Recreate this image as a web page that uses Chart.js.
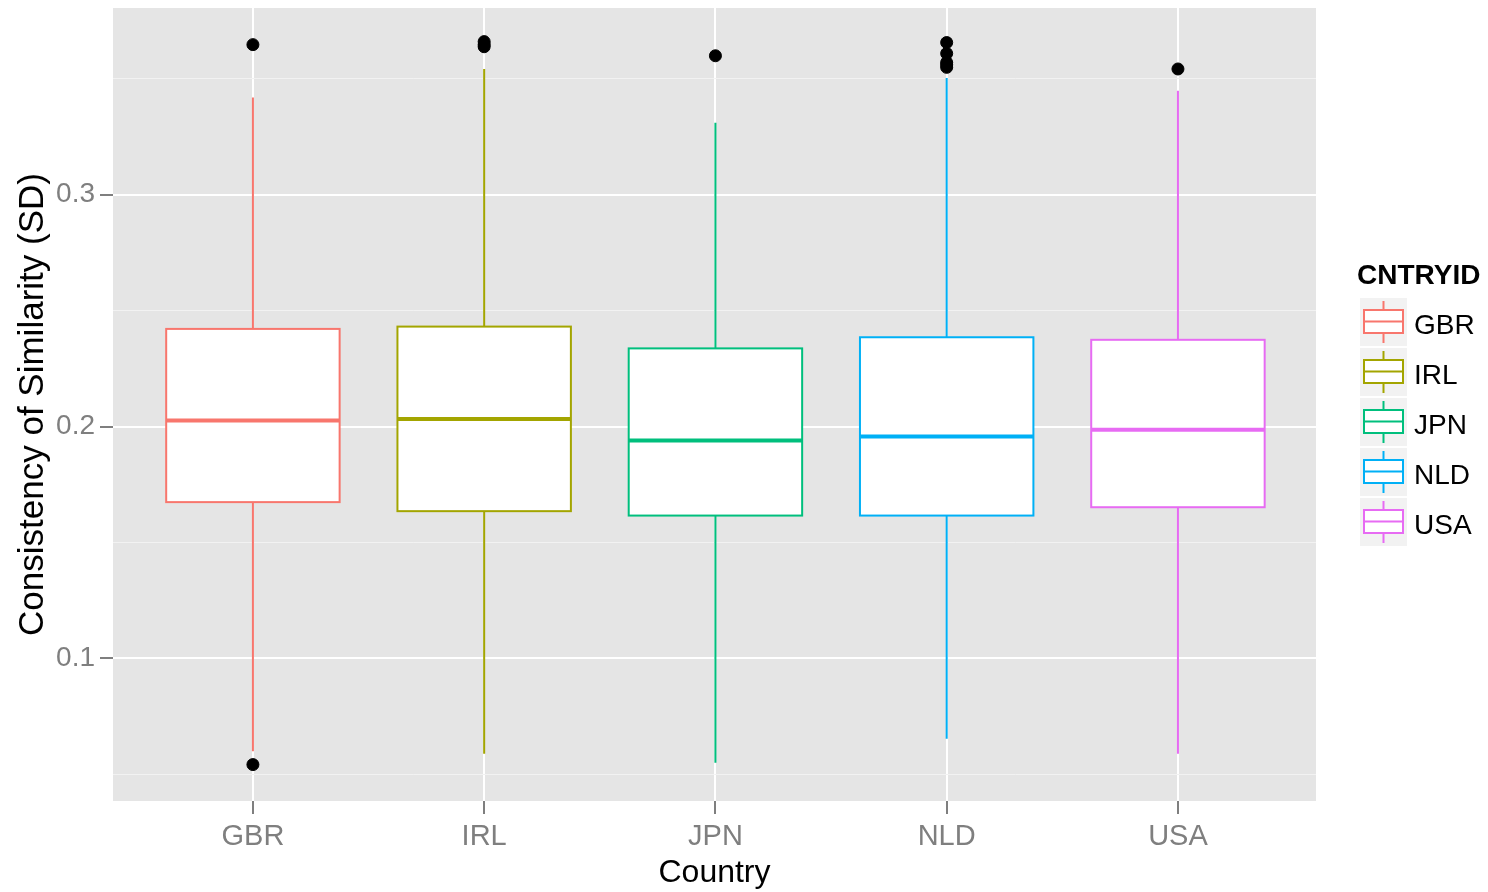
<!DOCTYPE html>
<html>
<head>
<meta charset="utf-8">
<script src="https://cdn.jsdelivr.net/npm/chart.js@4.4.1/dist/chart.umd.min.js"></script>
<style>
    html, body { margin: 0; padding: 0; background: #ffffff; }
    #wrap { width: 1488px; height: 892px; }
</style>
</head>
<body>
<div id="wrap"><canvas id="similarityBoxChart"></canvas></div>
<script>
const countries = ['GBR', 'IRL', 'JPN', 'NLD', 'USA'];
const boxColors = ['#F8766D', '#A3A500', '#00BF7D', '#00B0F6', '#E76BF3'];

// box stats
const whiskerLow  = [0.0600, 0.0589, 0.0550, 0.0654, 0.0589];
const q1          = [0.1674, 0.1635, 0.1616, 0.1616, 0.1652];
const medians     = [0.2026, 0.2033, 0.1940, 0.1957, 0.1986];
const q3          = [0.2421, 0.2431, 0.2337, 0.2385, 0.2374];
const whiskerHigh = [0.3419, 0.3542, 0.3310, 0.3503, 0.3448];
const outliers = [
    [0.3647, 0.0542],
    [0.3638, 0.3647, 0.3660],
    [0.3599],
    [0.3549, 0.3560, 0.3570, 0.3609, 0.3656],
    [0.3542]
];

const yMajorTicks = [0.1, 0.2, 0.3];
const yMinorTicks = [0.05, 0.15, 0.25, 0.35];

const FONT = "'Liberation Sans', Arial, sans-serif";
const BOX_HALF = 0.375;

const isMajor = (v) => yMajorTicks.some(m => Math.abs(m - v) < 1e-9);

const outlierPoints = [];
outliers.forEach((list, i) => {
    list.forEach(v => outlierPoints.push({ x: i, y: v }));
});

const panelBackground = {
    id: 'panelBackground',
    beforeDraw(chart) {
        const { ctx, chartArea: a } = chart;
        ctx.save();
        ctx.fillStyle = '#E5E5E5';
        ctx.fillRect(a.left, a.top, a.width, a.height);
        ctx.restore();
    }
};

const boxPlot = {
    id: 'boxPlot',
    beforeDatasetsDraw(chart) {
        const { ctx, chartArea: a } = chart;
        const xs = chart.scales.x;
        const ys = chart.scales.y;
        ctx.save();
        ctx.beginPath();
        ctx.rect(a.left, a.top, a.width, a.height);
        ctx.clip();
        countries.forEach((c, i) => {
            const cx = xs.getPixelForValue(i);
            const left = xs.getPixelForValue(i - BOX_HALF);
            const right = xs.getPixelForValue(i + BOX_HALF);
            const top = ys.getPixelForValue(q3[i]);
            const bottom = ys.getPixelForValue(q1[i]);
            ctx.strokeStyle = boxColors[i];
            ctx.lineWidth = 2;
            // whiskers
            ctx.beginPath();
            ctx.moveTo(cx, ys.getPixelForValue(whiskerHigh[i]));
            ctx.lineTo(cx, top);
            ctx.moveTo(cx, bottom);
            ctx.lineTo(cx, ys.getPixelForValue(whiskerLow[i]));
            ctx.stroke();
            // box
            ctx.fillStyle = '#FFFFFF';
            ctx.fillRect(left, top, right - left, bottom - top);
            ctx.strokeRect(left, top, right - left, bottom - top);
            // median
            const my = ys.getPixelForValue(medians[i]);
            ctx.lineWidth = 4;
            ctx.beginPath();
            ctx.moveTo(left, my);
            ctx.lineTo(right, my);
            ctx.stroke();
        });
        ctx.restore();
    }
};

const boxLegend = {
    id: 'boxLegend',
    afterDraw(chart) {
        const ctx = chart.ctx;
        const x0 = 1360, y0 = 298, keyW = 47, keyH = 48, step = 50;
        ctx.save();
        ctx.fillStyle = '#000000';
        ctx.font = 'bold 28px ' + FONT;
        ctx.textBaseline = 'middle';
        ctx.textAlign = 'left';
        ctx.fillText('CNTRYID', 1357, 276);
        countries.forEach((c, i) => {
            const ky = y0 + i * step;
            ctx.fillStyle = '#F2F2F2';
            ctx.fillRect(x0, ky, keyW, keyH);
            const cx = x0 + keyW / 2;
            ctx.strokeStyle = boxColors[i];
            ctx.lineWidth = 2;
            ctx.beginPath();
            ctx.moveTo(cx, ky + 3);
            ctx.lineTo(cx, ky + 12);
            ctx.moveTo(cx, ky + 35);
            ctx.lineTo(cx, ky + 45);
            ctx.stroke();
            ctx.fillStyle = '#FFFFFF';
            ctx.fillRect(x0 + 4, ky + 12, keyW - 8, 23);
            ctx.strokeRect(x0 + 4, ky + 12, keyW - 8, 23);
            ctx.beginPath();
            ctx.moveTo(x0 + 4, ky + 23.5);
            ctx.lineTo(x0 + keyW - 4, ky + 23.5);
            ctx.stroke();
            ctx.fillStyle = '#000000';
            ctx.font = '28px ' + FONT;
            ctx.fillText(c, 1414, ky + 28);
        });
        ctx.restore();
    }
};

const config = {
    type: 'scatter',
    data: {
        datasets: [{
            label: 'outliers',
            data: outlierPoints,
            backgroundColor: '#000000',
            borderColor: '#000000',
            pointRadius: 6,
            pointHoverRadius: 6,
        }]
    },
    options: {
        responsive: true,
        maintainAspectRatio: false,
        animation: false,
        layout: { padding: { left: 0, right: 172, top: 8, bottom: 0 } },
        plugins: {
            legend: { display: false },
            tooltip: { enabled: false },
        },
        scales: {
            x: {
                type: 'linear',
                min: -0.605,
                max: 4.597,
                afterBuildTicks: (s) => { s.ticks = countries.map((c, i) => ({ value: i })); },
                afterFit: (s) => {
                    s.height = 91;
                    s.paddingLeft = 0; s.paddingRight = 0;
                },
                border: { display: false },
                grid: {
                    color: '#FFFFFF',
                    lineWidth: 2,
                    tickColor: '#7F7F7F',
                    tickWidth: 2,
                    tickLength: 13,
                },
                ticks: {
                    callback: (v) => countries[v],
                    color: '#7F7F7F',
                    font: { family: FONT, size: 29 },
                    padding: 6,
                    maxRotation: 0,
                    autoSkip: false,
                },
                title: {
                    display: true,
                    text: 'Country',
                    color: '#000000',
                    font: { family: FONT, size: 32 },
                    padding: { top: 0, bottom: 0 },
                }
            },
            y: {
                min: 0.0385,
                max: 0.3805,
                afterBuildTicks: (s) => {
                    s.ticks = yMinorTicks.concat(yMajorTicks).sort((a, b) => a - b).map(v => ({ value: v }));
                },
                afterFit: (s) => {
                    s.width = 113;
                    s.paddingTop = 0; s.paddingBottom = 0;
                },
                border: { display: false },
                grid: {
                    color: (c) => isMajor(c.tick.value) ? '#FFFFFF' : '#F2F2F2',
                    lineWidth: (c) => isMajor(c.tick.value) ? 2 : 1,
                    tickColor: (c) => isMajor(c.tick.value) ? '#7F7F7F' : 'rgba(0,0,0,0)',
                    tickWidth: 2,
                    tickLength: 13,
                },
                ticks: {
                    callback: (v) => isMajor(v) ? v.toFixed(1) : '',
                    color: '#7F7F7F',
                    font: { family: FONT, size: 28 },
                    padding: 5,
                    autoSkip: false,
                },
                title: {
                    display: true,
                    text: 'Consistency of Similarity (SD)',
                    color: '#000000',
                    font: { family: FONT, size: 35 },
                    padding: { top: 12, bottom: 0 },
                }
            }
        }
    },
    plugins: [panelBackground, boxPlot, boxLegend]
};

const ctx = document.getElementById('similarityBoxChart').getContext('2d');
const similarityBoxChart = new Chart(ctx, config);
</script>
</body>
</html>
